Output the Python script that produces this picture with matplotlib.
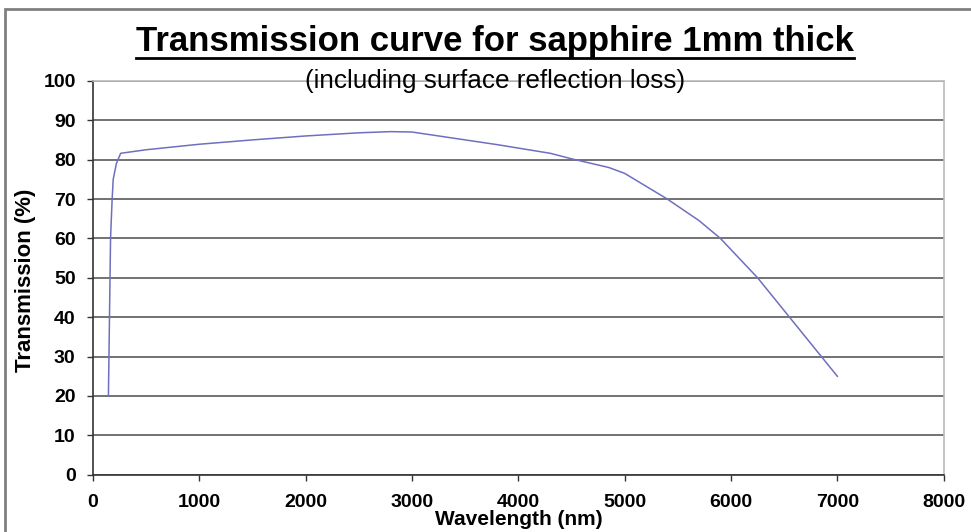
import matplotlib
matplotlib.use("Agg")
import matplotlib.pyplot as plt
from matplotlib.lines import Line2D
from matplotlib.patches import Rectangle

plt.rcParams['font.family'] = ['Liberation Sans', 'DejaVu Sans']

wavelength = [145, 150, 155, 160, 165, 180, 190, 220, 260, 500, 1000, 1500, 2000,
              2500, 2800, 3000, 3400, 3800, 4300, 4500, 4850, 5000, 5400, 5700,
              5900, 6250, 6550, 6850, 7000]
transmission = [20, 30, 40, 50, 60, 70, 75, 79, 81.6, 82.5, 83.9, 85.0, 86.0,
                86.8, 87.1, 87.0, 85.4, 83.8, 81.6, 80.2, 78.0, 76.5, 70.0, 64.5,
                60.0, 50.0, 40.0, 30.0, 25.0]
x_ticks = [0, 1000, 2000, 3000, 4000, 5000, 6000, 7000, 8000]
y_ticks = [0, 10, 20, 30, 40, 50, 60, 70, 80, 90, 100]

W, H = 971, 532
fig = plt.figure(figsize=(W / 100, H / 100), dpi=100)
fig.patch.set_facecolor('white')

# outer frame
fig.add_artist(Rectangle((5 / W, -0.05), 1.2, 1 - 9 / H + 0.05, transform=fig.transFigure,
                         fill=False, edgecolor='#808080', linewidth=2))

ax_bottom, ax_top = 474.8, 80.8
ax = fig.add_axes([93 / W, 1 - ax_bottom / H, (943.7 - 93) / W, (ax_bottom - ax_top) / H])
ax.plot(wavelength, transmission, color='#6f6fbf', linewidth=1.1)
ax.set_xlim(0, 8000)
ax.set_ylim(0, 100)
ax.set_xticks(x_ticks)
ax.set_yticks(y_ticks)
ax.set_xticklabels([str(v) for v in x_ticks], fontweight='bold', fontsize=14)
ax.set_yticklabels([str(v) for v in y_ticks], fontweight='bold', fontsize=14)
ax.tick_params(axis='both', direction='out', length=4.5, width=1, color='#333333')
ax.tick_params(axis='y', pad=8)
ax.tick_params(axis='x', pad=9)
ax.grid(axis='y', color='#5a5a5a', linewidth=1.2)
ax.set_axisbelow(True)
for s in ['top', 'right']:
    ax.spines[s].set_color('#bbbbbb')
    ax.spines[s].set_linewidth(1.2)
for s in ['left', 'bottom']:
    ax.spines[s].set_color('#333333')
    ax.spines[s].set_linewidth(1.2)

plot_h = ax_bottom - ax_top
ax.set_xlabel('Wavelength (nm)', fontweight='bold', fontsize=15)
ax.xaxis.set_label_coords(0.5, -(510 - ax_bottom) / plot_h)
ax.set_ylabel('Transmission (%)', fontweight='bold', fontsize=16)
ax.yaxis.set_label_coords(-(93 - 36) / (943.7 - 93), (ax_bottom - 280) / plot_h)

title = fig.text(495 / W, 1 - 51 / H, 'Transmission curve for sapphire 1mm thick',
                 ha='center', va='baseline', fontsize=25, fontweight='bold')
fig.text(495 / W, 1 - 81 / H, '(including surface reflection loss)',
         ha='center', va='center', fontsize=18.8)

fig.canvas.draw()
bb = title.get_window_extent()
uy = H - 58
fig.add_artist(Line2D([bb.x0 / W, bb.x1 / W], [uy / H, uy / H], transform=fig.transFigure,
                      color='black', linewidth=2))

fig.savefig('out.png', dpi=100)
